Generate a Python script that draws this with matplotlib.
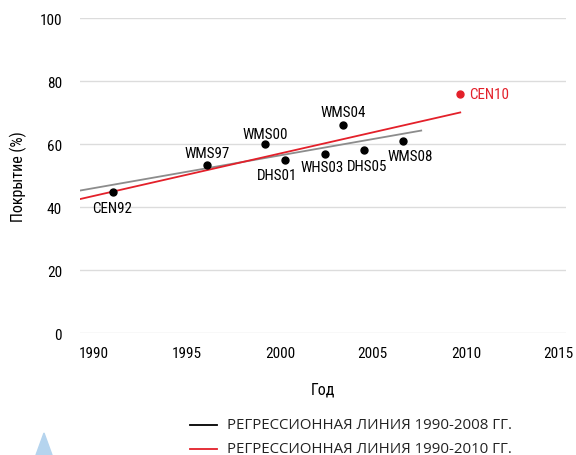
import numpy as np
import matplotlib
matplotlib.use("Agg")
import matplotlib.pyplot as plt
from matplotlib.patches import Polygon
from matplotlib.lines import Line2D

plt.rcParams['font.family'] = ['Roboto Condensed', 'Roboto', 'DejaVu Sans']

# survey points: label, year, coverage (%)
labels = ['CEN92', 'WMS97', 'WMS00', 'DHS01', 'WHS03', 'WMS04', 'DHS05', 'WMS08', 'CEN10']
years = [1991.0, 1996.1, 1999.2, 2000.3, 2002.4, 2003.4, 2004.5, 2006.6, 2009.7]
coverage = [44.7, 53.4, 60.0, 55.0, 56.8, 66.0, 58.0, 61.0, 75.9]
# label offsets in pixels
offsets = [(0, -16), (0, 12), (0, 10), (-8, -15), (-2, -13), (0, 13), (3, -16), (8, -15), (9, 0)]

x_ticks = [1990, 1995, 2000, 2005, 2010, 2015]
y_ticks = [0, 20, 40, 60, 80, 100]

legend_labels = ['РЕГРЕССИОННАЯ ЛИНИЯ 1990-2008 ГГ.', 'РЕГРЕССИОННАЯ ЛИНИЯ 1990-2010 ГГ.']

RED = '#e3202a'
x0 = 1989.25

fig = plt.figure(figsize=(5.76, 4.56), dpi=100)
ax = fig.add_axes([0.139, 0.2675, 0.844, 0.6905])
ax.set_xlim(x0, 2015.4)
ax.set_ylim(0, 100)

for s in ax.spines.values():
    s.set_visible(False)
ax.set_yticks(y_ticks)
ax.set_xticks(x_ticks)
ax.tick_params(length=0, labelsize=11, pad=13)
ax.tick_params(axis='x', pad=9)
ax.grid(axis='y', color='#dcdcdc', linewidth=1)
ax.set_axisbelow(True)

# regression lines
yrs = np.array(years)
cov = np.array(coverage)
k8, b8 = np.polyfit(yrs[:-1], cov[:-1], 1)
k10, b10 = np.polyfit(yrs, cov, 1)
xs8 = np.array([x0, 2007.6])
xs10 = np.array([x0, yrs[-1]])
ax.plot(xs8, k8 * xs8 + b8, color='#8c8c8c', lw=1.3, zorder=2)
ax.plot(xs10, k10 * xs10 + b10, color=RED, lw=1.3, zorder=2)

for i, (lab, x, y) in enumerate(zip(labels, years, coverage)):
    c = RED if lab == 'CEN10' else 'black'
    ax.plot(x, y, 'o', color=c, ms=5, zorder=3)
    dx, dy = offsets[i]
    ha = 'left' if lab == 'CEN10' else 'center'
    ax.annotate(lab, (x, y), xytext=(dx, dy), textcoords='offset pixels',
                ha=ha, va='center', fontsize=10.8, color=c)

ax.set_xlabel('Год', fontsize=11.5, labelpad=16)
ax.set_ylabel('Покрытие (%)', fontsize=11.5, labelpad=9)

# legend
for i, (lab, c) in enumerate(zip(legend_labels, ['black', RED])):
    yy = 1 - (426 + 24 * i) / 456
    fig.add_artist(Line2D([190 / 576, 217 / 576], [yy, yy], color=c, lw=1.3))
    fig.text(227 / 576, yy, lab, fontsize=10.8, va='center', ha='left',
             family=['Open Sans', 'DejaVu Sans'], color='#222222')

# small logo mark in the corner
tri = Polygon([[36 / 576, 0], [52 / 576, 0], [44 / 576, 1 - 434 / 456]],
              closed=True, transform=fig.transFigure, color='#b5d4ee')
fig.add_artist(tri)

fig.savefig('out.png', dpi=100)
